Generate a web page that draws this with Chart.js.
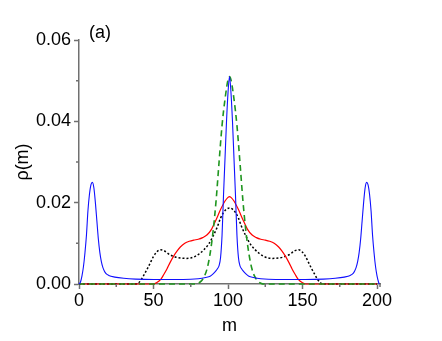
<!DOCTYPE html>
<html>
<head>
<meta charset="utf-8">
<script src="https://cdn.jsdelivr.net/npm/chart.js@4.4.0/dist/chart.umd.min.js"></script>
<style>
  html, body { margin: 0; padding: 0; background: #fff; }
  #wrap { width: 442px; height: 341px; position: relative; }
</style>
</head>
<body>
<div id="wrap"><canvas id="chart"></canvas></div>
<script>
// site index m and density rho(m)
const blueM = [0, 1, 2, 3, 4, 5, 6, 7, 8, 9, 10, 11, 12, 13, 14, 15, 16, 17, 18, 20, 24, 30, 38, 50, 70, 80, 85, 88, 90, 92, 93, 94, 95, 96, 97, 98, 99, 100, 101,
  102, 103, 104, 105, 106, 107, 108, 109, 110, 112, 114, 117, 122, 132, 152, 164, 172, 178, 182, 184, 185, 186, 187, 188, 189, 190, 191, 192, 193, 194, 195, 196, 197, 198, 199, 200, 201, 201.6];
const blueRho = [0, 0.0005, 0.002, 0.0043, 0.0077, 0.012, 0.018, 0.022, 0.0244, 0.025, 0.0236, 0.020, 0.0155, 0.011, 0.0077, 0.0055, 0.0041, 0.0032, 0.0026, 0.0021, 0.0017, 0.0014, 0.0012, 0.0011, 0.0011, 0.0013, 0.0016, 0.0019, 0.0025, 0.0033, 0.0038, 0.0045, 0.0065, 0.012, 0.022, 0.031, 0.040, 0.047, 0.051,
  0.047, 0.040, 0.031, 0.022, 0.012, 0.0065, 0.0045, 0.0038, 0.0033, 0.0025, 0.0019, 0.0016, 0.0013, 0.0011, 0.0011, 0.0012, 0.0014, 0.0017, 0.0021, 0.0026, 0.0032, 0.0041, 0.0055, 0.0077, 0.011, 0.0155, 0.020, 0.0236, 0.025, 0.0244, 0.022, 0.018, 0.012, 0.0077, 0.0043, 0.002, 0.0005, 0];

const redM = [0, 50, 52, 55, 57, 59, 61, 63.4, 66, 68, 71, 74, 77, 80, 83, 86, 89, 92, 95, 98, 100, 101,
  102, 104, 107, 110, 113, 116, 119, 122, 125, 128, 131, 134, 136, 138.6, 141, 143, 145, 147, 150, 152, 200];
const redRho = [0, 0, 0.0003, 0.0012, 0.0024, 0.0037, 0.0052, 0.0068, 0.0082, 0.0091, 0.0100, 0.0105, 0.0108, 0.0110, 0.0114, 0.0121, 0.0135, 0.0158, 0.0183, 0.0204, 0.0213, 0.0215,
  0.0213, 0.0204, 0.0183, 0.0158, 0.0135, 0.0121, 0.0114, 0.0110, 0.0108, 0.0105, 0.0100, 0.0091, 0.0082, 0.0068, 0.0052, 0.0037, 0.0024, 0.0012, 0.0003, 0, 0];

const blackM = [0, 38, 40, 42, 44, 45.5, 48, 50, 52, 54.5, 57, 61, 65, 68, 72, 75, 78, 81, 84, 87, 90, 93, 95, 97, 99, 101,
  103, 105, 107, 109, 112, 115, 118, 121, 124, 127, 130, 134, 137, 141, 145, 147.5, 150, 152, 154, 156.5, 158, 160, 162, 164, 200];
const blackRho = [0, 0, 0.0003, 0.0012, 0.0025, 0.0035, 0.0053, 0.0068, 0.0078, 0.0084, 0.0082, 0.0072, 0.0066, 0.0064, 0.0063, 0.0064, 0.0068, 0.0075, 0.0085, 0.0098, 0.0118, 0.0142, 0.0162, 0.0176, 0.0184, 0.0187,
  0.0184, 0.0176, 0.0162, 0.0142, 0.0118, 0.0098, 0.0085, 0.0075, 0.0068, 0.0064, 0.0063, 0.0064, 0.0066, 0.0072, 0.0082, 0.0084, 0.0078, 0.0068, 0.0053, 0.0035, 0.0025, 0.0012, 0.0003, 0, 0];

const greenM = [0, 78, 80, 82, 84, 86, 88, 90, 92, 94, 96, 98, 100, 101, 102, 104, 106, 108, 110, 112, 114, 116, 118, 120, 122, 124, 200];
const greenRho = [0, 0, 0.0002, 0.0007, 0.0018, 0.0038, 0.0075, 0.013, 0.0205, 0.030, 0.039, 0.0455, 0.0502, 0.051, 0.0502, 0.0455, 0.039, 0.030, 0.0205, 0.013, 0.0075, 0.0038, 0.0018, 0.0007, 0.0002, 0, 0];

const xTicks = [0, 50, 100, 150, 200];
const yTicks = [0, 0.02, 0.04, 0.06];

function pts(ms, vals) {
    return ms.map((m, i) => ({ x: m, y: vals[i] }));
}

const axisColor = '#707070';
const font = { family: '"Liberation Sans", Arial, Helvetica, sans-serif', size: 18 };

function isMajor(list, v) {
    return list.some(t => Math.abs(t - v) < 1e-9);
}

// short minor ticks, drawn outside the axes
const minorTicks = {
    id: 'minorTicks',
    afterDraw(chart) {
        const ctx = chart.ctx;
        const xs = chart.scales.x, ys = chart.scales.y;
        ctx.save();
        ctx.strokeStyle = axisColor;
        ctx.lineWidth = 1.5;
        ctx.beginPath();
        xs.ticks.forEach(t => {
            if (isMajor(xTicks, t.value)) return;
            const px = xs.getPixelForValue(t.value);
            ctx.moveTo(px, xs.top);
            ctx.lineTo(px, xs.top + 3);
        });
        ys.ticks.forEach(t => {
            if (isMajor(yTicks, t.value)) return;
            const py = ys.getPixelForValue(t.value);
            ctx.moveTo(ys.right, py);
            ctx.lineTo(ys.right - 3, py);
        });
        ctx.stroke();
        // panel label
        ctx.fillStyle = '#000';
        ctx.font = '18px "Liberation Sans", Arial, sans-serif';
        ctx.textBaseline = 'middle';
        ctx.fillText('(a)', chart.chartArea.left + 10, chart.chartArea.top - 7);
        ctx.restore();
    }
};

new Chart(document.getElementById('chart'), {
    type: 'line',
    data: {
        datasets: [
            {
                data: pts(blueM, blueRho),
                borderColor: '#1010ff',
                borderWidth: 1.1,
                order: 0
            },
            {
                data: pts(greenM, greenRho),
                borderColor: '#1f951f',
                borderWidth: 1.6,
                borderDash: [6, 4],
                order: 1
            },
            {
                data: pts(redM, redRho),
                borderColor: '#ff0000',
                borderWidth: 1.2,
                order: 2
            },
            {
                data: pts(blackM, blackRho),
                borderColor: '#000000',
                borderWidth: 1.5,
                borderDash: [2, 2],
                order: 3
            }
        ]
    },
    options: {
        responsive: true,
        maintainAspectRatio: false,
        devicePixelRatio: 1,
        animation: false,
        layout: { padding: { top: 40, right: 62, left: 0, bottom: 0 } },
        elements: {
            point: { radius: 0 },
            line: { cubicInterpolationMode: 'monotone', fill: false }
        },
        datasets: {
            line: { clip: 3 }
        },
        plugins: {
            legend: { display: false },
            tooltip: { enabled: false }
        },
        scales: {
            x: {
                type: 'linear',
                bounds: 'data',
                min: 0,
                max: 202,
                afterFit: s => { s.height = 57; },
                border: { display: true, color: axisColor, width: 1.5 },
                grid: {
                    drawOnChartArea: false,
                    drawTicks: true,
                    tickLength: 5,
                    tickWidth: 1.5,
                    color: c => isMajor(xTicks, c.tick.value) ? axisColor : 'rgba(0,0,0,0)'
                },
                ticks: {
                    stepSize: 25,
                    includeBounds: false,
                    autoSkip: false,
                    maxRotation: 0,
                    padding: 1,
                    color: '#000',
                    font: font,
                    callback: v => isMajor(xTicks, v) ? String(v) : ''
                },
                title: {
                    display: true,
                    text: 'm',
                    color: '#000',
                    font: font,
                    padding: { top: 0, bottom: 4 }
                }
            },
            y: {
                type: 'linear',
                min: 0,
                max: 0.06,
                afterFit: s => { s.width = 79; },
                border: { display: true, color: axisColor, width: 1.5 },
                grid: {
                    drawOnChartArea: false,
                    drawTicks: true,
                    tickLength: 5,
                    tickWidth: 1.5,
                    color: c => isMajor(yTicks, c.tick.value) ? axisColor : 'rgba(0,0,0,0)'
                },
                ticks: {
                    stepSize: 0.01,
                    autoSkip: false,
                    padding: 3,
                    color: '#000',
                    font: font,
                    callback: v => isMajor(yTicks, v) ? v.toFixed(2) : ''
                },
                title: {
                    display: true,
                    text: 'ρ(m)',
                    color: '#000',
                    font: font,
                    padding: { top: 12, bottom: 0 }
                }
            }
        }
    },
    plugins: [minorTicks]
});
</script>
</body>
</html>
